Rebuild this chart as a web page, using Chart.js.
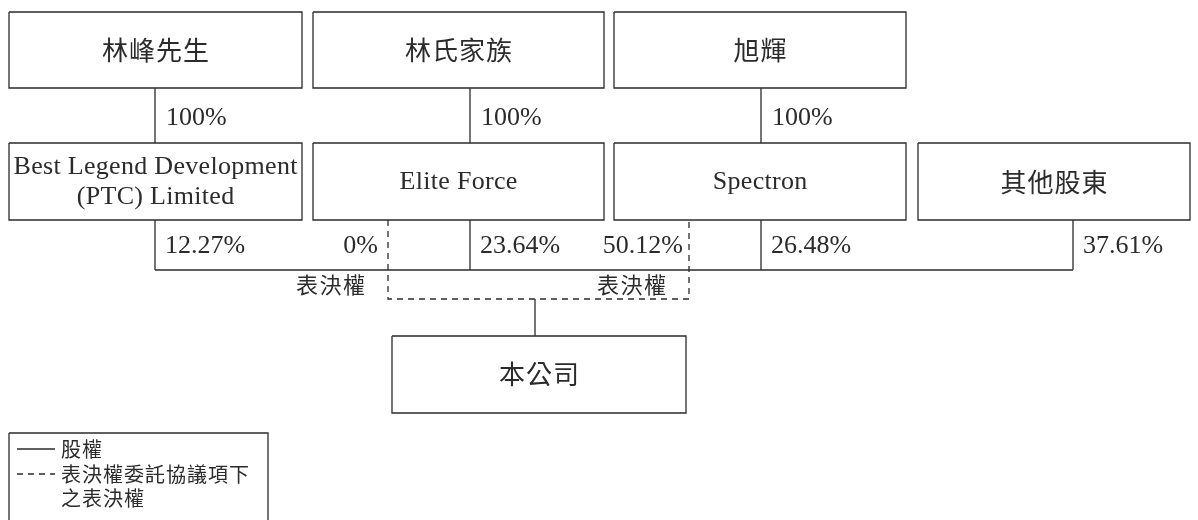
<!DOCTYPE html>
<html>
<head>
<meta charset="utf-8">
<script src="https://cdn.jsdelivr.net/npm/chart.js@4/dist/chart.umd.min.js"></script>
<style>
  html, body { margin: 0; padding: 0; background: #fff; }
  canvas { display: block; }
</style>
</head>
<body>
<canvas id="chart" width="1198" height="520"></canvas>
<script>
// --- data ---
const owners = ['林峰先生', '林氏家族', '旭輝']
const ownerPct = [100, 100, 100]
const holders = [['Best Legend Development', '(PTC) Limited'], ['Elite Force'], ['Spectron'], ['其他股東']]
const equityPct = [12.27, 23.64, 26.48, 37.61]
const votingPct = [0, 50.12]
const votingLabel = '表決權'
const company = '本公司'
const legendLabels = [['股權'], ['表決權委託協議項下', '之表決權']]

// --- layout (axis units, axis runs 0..1198 across and 0..520 down) ---
const colLeft = [9, 313, 614, 918]
const colRight = [302, 604, 906, 1190]
const stemX = [155, 470, 761, 1073]
const dashX = [388, 689]
const votingEnd = [378, 683]
const topRow = [12, 88]
const midRow = [143, 220]
const busY = 270
const dashY = 299
const coBox = { l: 392, r: 686, t: 336, b: 413 }
const legBox = { l: 9, r: 268, t: 433, b: 530 }
const legRows = [449, 474, 498]

const INK = '#2b2b2b'
const serif = '"Liberation Serif", "Noto Sans CJK TC", serif'
const cjk = '"Noto Sans CJK TC", "Liberation Serif", serif'

const gap = { x: 0, y: null }
function rect(l, r, t, b) {
  return [{ x: l, y: t }, { x: r, y: t }, { x: r, y: b }, { x: l, y: b }, { x: l, y: t }, gap]
}
function seg(...pts) {
  return pts.map(p => ({ x: p[0], y: p[1] })).concat([gap])
}

let boxPts = []
owners.forEach((o, i) => { boxPts = boxPts.concat(rect(colLeft[i], colRight[i], topRow[0], topRow[1])) })
holders.forEach((h, i) => { boxPts = boxPts.concat(rect(colLeft[i], colRight[i], midRow[0], midRow[1])) })
boxPts = boxPts.concat(rect(coBox.l, coBox.r, coBox.t, coBox.b))
boxPts = boxPts.concat(rect(legBox.l, legBox.r, legBox.t, legBox.b))

let solidPts = []
owners.forEach((o, i) => { solidPts = solidPts.concat(seg([stemX[i], topRow[1]], [stemX[i], midRow[0]])) })
holders.forEach((h, i) => { solidPts = solidPts.concat(seg([stemX[i], midRow[1]], [stemX[i], busY])) })
solidPts = solidPts.concat(seg([stemX[0], busY], [stemX[3], busY]))
const coMid = (coBox.l + coBox.r) / 2
solidPts = solidPts.concat(seg([coMid - 4, dashY], [coMid - 4, coBox.t]))
solidPts = solidPts.concat(seg([17, legRows[0]], [55, legRows[0]]))

let dashPts = seg([dashX[0], midRow[1]], [dashX[0], dashY], [dashX[1], dashY], [dashX[1], midRow[1]])
dashPts = dashPts.concat(seg([17, legRows[1]], [55, legRows[1]]))

function pct(v) { return v + '%' }

function text(ctx, t, x, y, align, font, spacing) {
  ctx.font = font
  ctx.letterSpacing = spacing + 'px'
  ctx.textAlign = 'left'
  const w = ctx.measureText(t).width - spacing
  let x0 = x
  if (align === 'center') x0 = x - w / 2
  if (align === 'right') x0 = x - w
  ctx.fillText(t, x0, y)
}

const labelPlugin = {
  id: 'labels',
  afterDatasetsDraw(chart) {
    const ctx = chart.ctx
    const xs = chart.scales.x, ys = chart.scales.y
    const X = v => xs.getPixelForValue(v), Y = v => ys.getPixelForValue(v)
    ctx.save()
    ctx.fillStyle = INK
    ctx.textBaseline = 'middle'
    const serifFont = '26px ' + serif
    const cjkFont = '26px ' + cjk

    // owner boxes
    owners.forEach((o, i) => text(ctx, o, X((colLeft[i] + colRight[i]) / 2), Y((topRow[0] + topRow[1]) / 2), 'center', cjkFont, 1))

    // 100% links
    ownerPct.forEach((p, i) => text(ctx, pct(p), X(stemX[i] + 11), Y(118), 'left', serifFont, 0))

    // holder boxes
    holders.forEach((lines, i) => {
      const cx = X((colLeft[i] + colRight[i]) / 2)
      const cy = (midRow[0] + midRow[1]) / 2 + 1
      const isCjk = /[\u4e00-\u9fff]/.test(lines[0])
      const lh = 30
      lines.forEach((t, k) => text(ctx, t, cx, Y(cy + (k - (lines.length - 1) / 2) * lh),
        'center', isCjk ? cjkFont : serifFont, isCjk ? 1 : 0.3))
    })

    // equity percentages
    const pctY = 246
    equityPct.forEach((p, i) => text(ctx, pct(p), X(stemX[i] + 10), Y(pctY), 'left', serifFont, 0))
    votingPct.forEach((p, i) => text(ctx, pct(p), X(votingEnd[i]), Y(pctY), 'right', serifFont, 0))

    // voting labels
    votingPct.forEach((p, i) => text(ctx, votingLabel, X(dashX[i] - 23), Y((busY + dashY) / 2), 'right', '22px ' + cjk, 1.5))

    // company
    text(ctx, company, X(coMid), Y((coBox.t + coBox.b) / 2), 'center', cjkFont, 1)

    // legend
    let row = 0
    legendLabels.forEach(lines => lines.forEach(t => {
      text(ctx, t, X(61), Y(legRows[row]), 'left', '20px ' + cjk, 1)
      row++
    }))
    ctx.restore()
  }
}

const line = (data, dash) => ({
  type: 'line', data, borderColor: INK, borderWidth: 1.3, borderDash: dash,
  pointRadius: 0, spanGaps: false, fill: false, tension: 0
})

new Chart(document.getElementById('chart'), {
  type: 'line',
  data: {
    datasets: [line(boxPts, []), line(solidPts, []), line(dashPts, [6, 5])]
  },
  options: {
    responsive: false,
    animation: false,
    devicePixelRatio: 1,
    layout: { padding: 0 },
    scales: {
      x: { type: 'linear', min: 0, max: 1198, display: false },
      y: { type: 'linear', min: 0, max: 520, reverse: true, display: false }
    },
    plugins: { legend: { display: false }, tooltip: { enabled: false } }
  },
  plugins: [labelPlugin]
})
</script>
</body>
</html>
